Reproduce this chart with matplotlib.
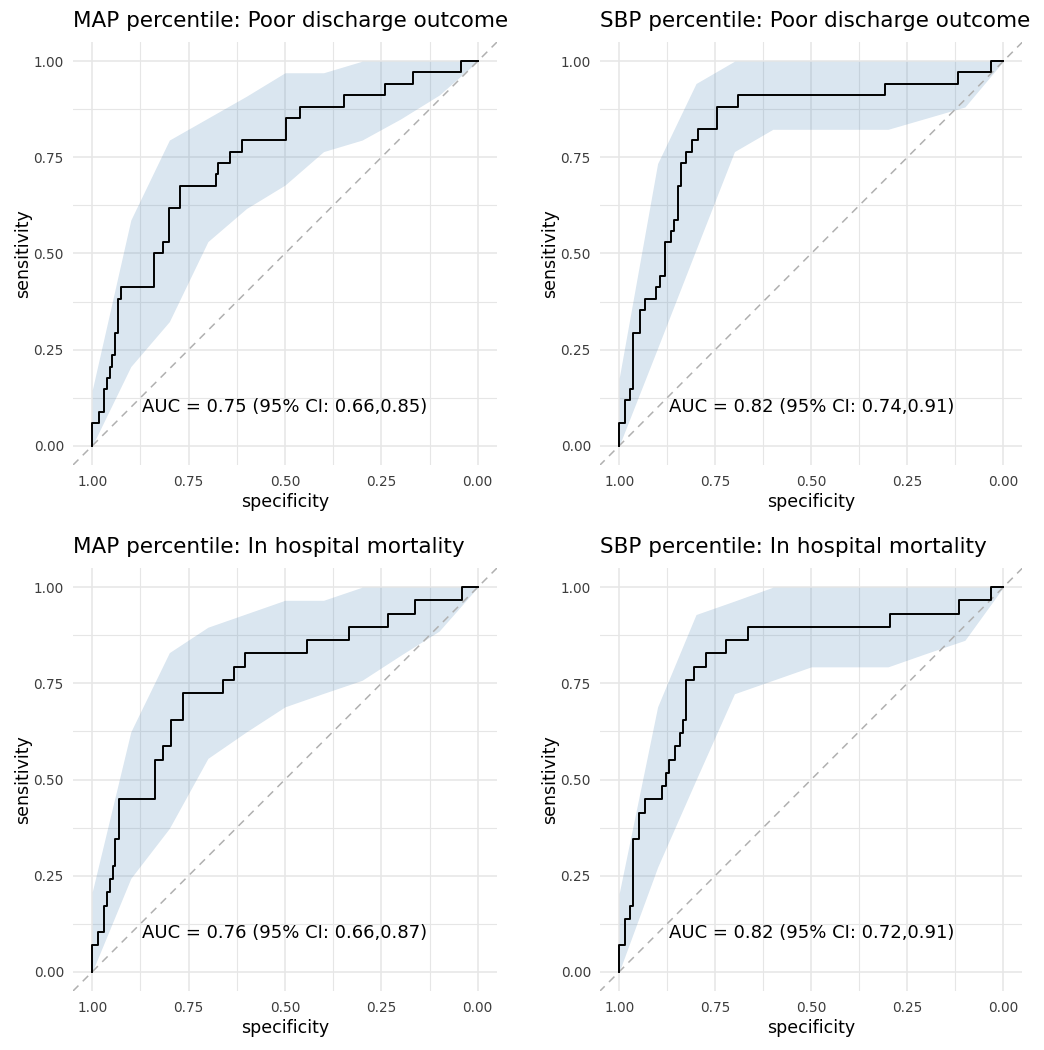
import matplotlib

matplotlib.use("Agg")
import matplotlib.pyplot as plt

################## Data ###################

# Sensitivity CI band is given at these specificities
ci_spec = [1.0, 0.9, 0.8, 0.7, 0.6, 0.5, 0.4, 0.3, 0.2, 0.1, 0.0]

# MAP percentile: poor discharge outcome
map_poor_spec = [1.000, 0.983, 0.969, 0.962, 0.955, 0.948, 0.941, 0.932, 0.925,
                 0.839, 0.816, 0.801, 0.773, 0.680, 0.674, 0.642, 0.611, 0.497,
                 0.462, 0.346, 0.240, 0.167, 0.043, 0.000]
map_poor_sens = [0.000, 0.059, 0.088, 0.147, 0.176, 0.206, 0.235, 0.294, 0.382,
                 0.412, 0.500, 0.529, 0.618, 0.676, 0.706, 0.735, 0.765, 0.794,
                 0.853, 0.882, 0.912, 0.941, 0.971, 1.000]
map_poor_lo = [0.000, 0.206, 0.323, 0.531, 0.617, 0.678, 0.765, 0.795, 0.850, 0.912, 1.000]
map_poor_hi = [0.145, 0.587, 0.795, 0.852, 0.909, 0.970, 0.970, 1.000, 1.000, 1.000, 1.000]
map_poor_auc = "AUC = 0.75 (95% CI: 0.66,0.85)"

# SBP percentile: poor discharge outcome
sbp_poor_spec = [1.000, 0.984, 0.971, 0.963, 0.947, 0.932, 0.904, 0.893, 0.880,
                 0.865, 0.857, 0.848, 0.840, 0.826, 0.811, 0.796, 0.746, 0.690,
                 0.308, 0.119, 0.033, 0.000]
sbp_poor_sens = [0.000, 0.059, 0.118, 0.147, 0.294, 0.353, 0.382, 0.412, 0.441,
                 0.529, 0.559, 0.588, 0.676, 0.735, 0.765, 0.794, 0.824, 0.882,
                 0.912, 0.941, 0.971, 1.000]
sbp_poor_lo = [0.000, 0.254, 0.510, 0.765, 0.823, 0.823, 0.823, 0.823, 0.852, 0.881, 1.000]
sbp_poor_hi = [0.176, 0.734, 0.942, 1.000, 1.000, 1.000, 1.000, 1.000, 1.000, 1.000, 1.000]
sbp_poor_auc = "AUC = 0.82 (95% CI: 0.74,0.91)"

# MAP percentile: in hospital mortality
map_mort_spec = [1.000, 0.984, 0.970, 0.962, 0.955, 0.947, 0.941, 0.931, 0.838,
                 0.816, 0.795, 0.764, 0.662, 0.633, 0.605, 0.443, 0.334, 0.232,
                 0.163, 0.041, 0.000]
map_mort_sens = [0.000, 0.069, 0.103, 0.172, 0.207, 0.241, 0.276, 0.345, 0.448,
                 0.552, 0.586, 0.655, 0.724, 0.759, 0.793, 0.828, 0.862, 0.897,
                 0.931, 0.966, 1.000]
map_mort_lo = [0.000, 0.243, 0.373, 0.555, 0.624, 0.689, 0.724, 0.758, 0.823, 0.886, 1.000]
map_mort_hi = [0.208, 0.624, 0.830, 0.896, 0.931, 0.966, 0.966, 1.000, 1.000, 1.000, 1.000]
map_mort_auc = "AUC = 0.76 (95% CI: 0.66,0.87)"

# SBP percentile: in hospital mortality
sbp_mort_spec = [1.000, 0.986, 0.971, 0.964, 0.948, 0.934, 0.888, 0.879, 0.870,
                 0.854, 0.843, 0.833, 0.826, 0.804, 0.774, 0.722, 0.665, 0.295,
                 0.115, 0.031, 0.000]
sbp_mort_sens = [0.000, 0.069, 0.138, 0.172, 0.345, 0.414, 0.448, 0.483, 0.517,
                 0.552, 0.586, 0.621, 0.655, 0.759, 0.793, 0.828, 0.862, 0.897,
                 0.931, 0.966, 1.000]
sbp_mort_lo = [0.000, 0.272, 0.499, 0.723, 0.758, 0.793, 0.793, 0.793, 0.828, 0.862, 1.000]
sbp_mort_hi = [0.204, 0.689, 0.929, 0.964, 1.000, 1.000, 1.000, 1.000, 1.000, 1.000, 1.000]
sbp_mort_auc = "AUC = 0.82 (95% CI: 0.72,0.91)"

titles = [
    "MAP percentile: Poor discharge outcome",
    "SBP percentile: Poor discharge outcome",
    "MAP percentile: In hospital mortality",
    "SBP percentile: In hospital mortality",
]
ticks = [1.00, 0.75, 0.50, 0.25, 0.00]
tick_labels = ["1.00", "0.75", "0.50", "0.25", "0.00"]
minor_ticks = [0.875, 0.625, 0.375, 0.125]

################## Style ###################

grid_col = "#E6E6E6"
tick_col = "#3D3D3D"
band_col = "steelblue"
diag_col = "#B0B0B0"

plt.rcParams.update({"font.family": ["DejaVu Sans"]})

W, H = 1044, 1050
# panel boxes in pixels: left, top, right, bottom
boxes = [
    (73, 42, 497, 465),
    (600, 42, 1022.5, 465),
    (73, 568, 497, 991),
    (600, 568, 1022.5, 991),
]

panels = [
    (map_poor_spec, map_poor_sens, map_poor_lo, map_poor_hi, map_poor_auc),
    (sbp_poor_spec, sbp_poor_sens, sbp_poor_lo, sbp_poor_hi, sbp_poor_auc),
    (map_mort_spec, map_mort_sens, map_mort_lo, map_mort_hi, map_mort_auc),
    (sbp_mort_spec, sbp_mort_sens, sbp_mort_lo, sbp_mort_hi, sbp_mort_auc),
]

fig = plt.figure(figsize=(W / 100, H / 100), dpi=100)

for (l, t, r, b), title, (spec, sens, lo, hi, auc) in zip(boxes, titles, panels):
    ax = fig.add_axes([l / W, 1 - b / H, (r - l) / W, (b - t) / H])

    # CI band, chance line and ROC curve
    ax.fill_between(ci_spec, lo, hi, color=band_col, alpha=0.2, linewidth=0, zorder=2)
    ax.axline((1, 0), (0, 1), color=diag_col, linewidth=1.1, dashes=(5, 4), zorder=3)
    ax.step(spec, sens, where="pre", color="black", linewidth=1.4, zorder=4)

    ax.text(0.5, 0.1, auc, ha="center", va="center", fontsize=13, color="black", zorder=5)

    # Reversed specificity axis, ggplot-like expansion
    ax.set_xlim(1.05, -0.05)
    ax.set_ylim(-0.05, 1.05)

    ax.set_xticks(ticks)
    ax.set_xticklabels(tick_labels)
    ax.set_yticks(ticks)
    ax.set_yticklabels(tick_labels)
    ax.set_xticks(minor_ticks, minor=True)
    ax.set_yticks(minor_ticks, minor=True)

    ax.grid(which="major", color=grid_col, linewidth=1.1)
    ax.grid(which="minor", color=grid_col, linewidth=0.8)
    ax.set_axisbelow(True)

    ax.tick_params(which="both", length=0, colors=tick_col, labelsize=9.8)
    ax.tick_params(axis="x", pad=7)
    ax.tick_params(axis="y", pad=6.5)

    for spine in ax.spines.values():
        spine.set_visible(False)

    ax.set_xlabel("specificity", fontsize=12.5, color="black", labelpad=3)
    ax.set_ylabel("sensitivity", fontsize=12.5, color="black", labelpad=1)
    ax.set_title(title, loc="left", fontsize=15.5, color="black", pad=10.8)

fig.savefig("out.png", dpi=100, facecolor="white")
